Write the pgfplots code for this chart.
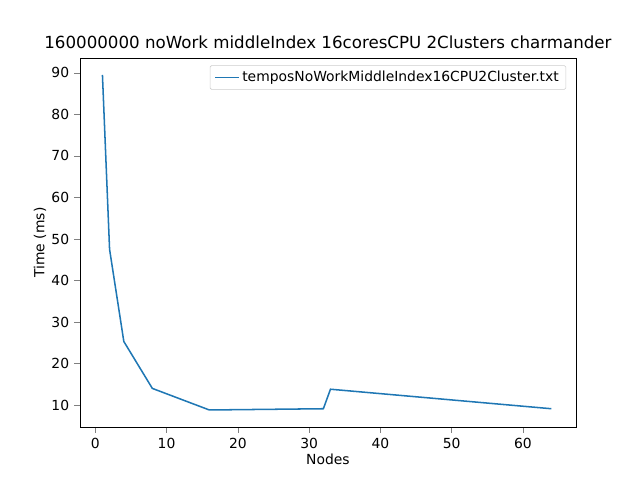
\documentclass[border=0pt]{standalone}
\usepackage{pgfplots}
\pgfplotsset{compat=1.18}
\usepackage{fontspec}
\setmainfont{DejaVu Sans}
\begin{document}
\begin{tikzpicture}
\useasboundingbox (0pt,0pt) rectangle (460.8pt,345.6pt);
\begin{axis}[at={(57.6pt,38.16pt)},anchor=south west,
  scale only axis, width=357.1pt, height=265.7pt,
  xmin=-2.15, xmax=67.45, ymin=4.7, ymax=93.6,
  xtick={0,10,...,60}, ytick={10,20,...,90},
  tick align=outside, tick pos=left,
  /pgf/number format/assume math mode=true,
  ticklabel style={font=\fontsize{10}{12}\selectfont},
  label style={font=\fontsize{10}{12}\selectfont},
  xlabel={Nodes}, ylabel={Time (ms)},
  xlabel style={yshift=3pt}, ylabel style={yshift=-3pt},
  title={160000000 noWork middleIndex 16coresCPU 2Clusters charmander},
  title style={font=\fontsize{12}{14}\selectfont,yshift=-3pt},
  legend style={at={(0.98,0.98)},anchor=north east,font=\fontsize{10}{12}\selectfont,draw=black!20,rounded corners=1pt},
  legend cell align=left]
\addplot[color={rgb,255:red,31;green,119;blue,180}, line width=1.1pt, mark=none] coordinates {
(1,89.5)(2,47.5)(4,25.3)(8,14.0)(16,8.8)(32,9.1)(33,13.8)(64,9.1)};
\addlegendentry{temposNoWorkMiddleIndex16CPU2Cluster.txt}
\end{axis}
\end{tikzpicture}
\end{document}
